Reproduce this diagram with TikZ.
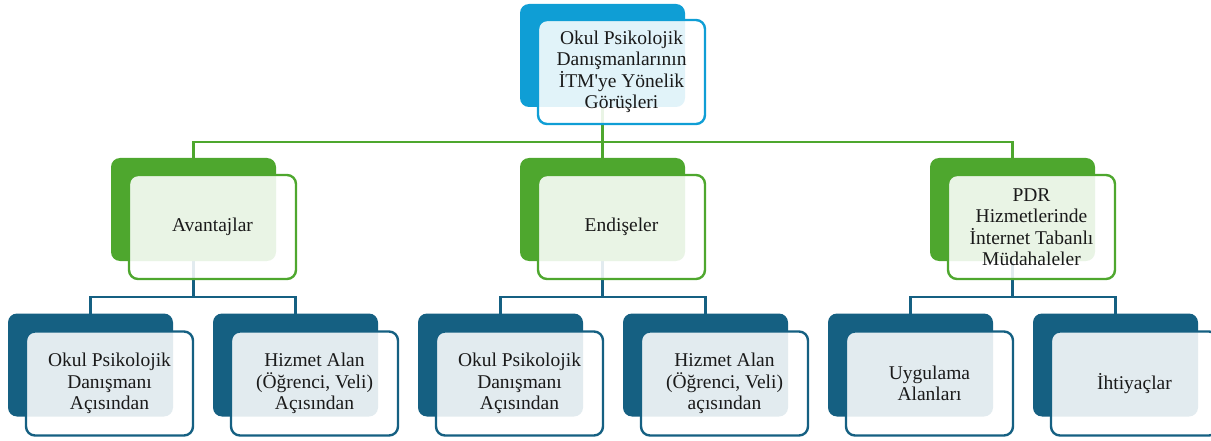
\documentclass[tikz,border=0pt]{standalone}
\usepackage{fontspec}
\setmainfont{Liberation Serif}[Ligatures=TeXOff]
\usetikzlibrary{calc}
\definecolor{topblue}{HTML}{0F9ED5}
\definecolor{grn}{HTML}{4EA72E}
\definecolor{dblue}{HTML}{156082}
\definecolor{txt}{HTML}{1A1A1A}
\begin{document}
\begin{tikzpicture}[x=1pt,y=-1pt,
  back/.style={draw=none,fill=#1,rounded corners=9pt,minimum width=165pt,minimum height=103pt,inner sep=0pt},
  front/.style={draw=#1,line width=2.4pt,fill=white,fill opacity=0.88,text opacity=1,rounded corners=9pt,
    minimum width=167pt,minimum height=104pt,inner sep=2pt,align=center,text=txt,
    font=\fontsize{19.5}{21.5}\selectfont},
  gl/.style={draw=grn,line width=2.4pt},
  bl/.style={draw=dblue,line width=2.4pt}]
\useasboundingbox (0,0) rectangle (1211,441);
% positions of back boxes
\coordinate (pT) at (602.5,55.5);
\coordinate (pA) at (193.5,209.5);
\coordinate (pE) at (602.5,209.5);
\coordinate (pP) at (1012.5,209.5);
\coordinate (p1) at (90.5,365);
\coordinate (p2) at (295.5,365);
\coordinate (p3) at (500.5,365);
\coordinate (p4) at (705.5,365);
\coordinate (p5) at (910.5,365);
\coordinate (p6) at (1115.5,365);
% connectors (drawn first, behind the boxes)
\coordinate (gj) at (602.5,142);
\coordinate (bjA) at (193.5,297);
\coordinate (bjE) at (602.5,297);
\coordinate (bjP) at (1012.5,297);
\draw[gl] (pT) -- (gj);
\draw[gl] (pA) |- (gj) -| (pP);
\draw[gl] (gj) -- (pE);
\draw[bl] (pA) -- (bjA);
\draw[bl] (p1) |- (bjA) -| (p2);
\draw[bl] (pE) -- (bjE);
\draw[bl] (p3) |- (bjE) -| (p4);
\draw[bl] (pP) -- (bjP);
\draw[bl] (p5) |- (bjP) -| (p6);
% top
\node[back=topblue] (Tb) at (pT) {};
\node[front=topblue] (T) at ($(pT)+(19,16.5)$) {Okul Psikolojik\\Danışmanlarının\\İTM'ye Yönelik\\Görüşleri};
% level 2
\node[back=grn] (Ab) at (pA) {};
\node[front=grn] (A) at ($(pA)+(19,17.5)$) {Avantajlar};
\node[back=grn] (Eb) at (pE) {};
\node[front=grn] (E) at ($(pE)+(19,17.5)$) {Endişeler};
\node[back=grn] (Pb) at (pP) {};
\node[front=grn] (P) at ($(pP)+(19,17.5)$) {PDR\\Hizmetlerinde\\İnternet Tabanlı\\Müdahaleler};
% level 3
\node[back=dblue] (L1b) at (p1) {};
\node[front=dblue] (L1) at ($(p1)+(19,18.5)$) {Okul Psikolojik\\Danışmanı\\Açısından};
\node[back=dblue] (L2b) at (p2) {};
\node[front=dblue] (L2) at ($(p2)+(19,18.5)$) {Hizmet Alan\\(Öğrenci, Veli)\\Açısından};
\node[back=dblue] (L3b) at (p3) {};
\node[front=dblue] (L3) at ($(p3)+(19,18.5)$) {Okul Psikolojik\\Danışmanı\\Açısından};
\node[back=dblue] (L4b) at (p4) {};
\node[front=dblue] (L4) at ($(p4)+(19,18.5)$) {Hizmet Alan\\(Öğrenci, Veli)\\açısından};
\node[back=dblue] (L5b) at (p5) {};
\node[front=dblue] (L5) at ($(p5)+(19,18.5)$) {Uygulama\\Alanları};
\node[back=dblue] (L6b) at (p6) {};
\node[front=dblue] (L6) at ($(p6)+(19,18.5)$) {İhtiyaçlar};
\end{tikzpicture}
\end{document}
